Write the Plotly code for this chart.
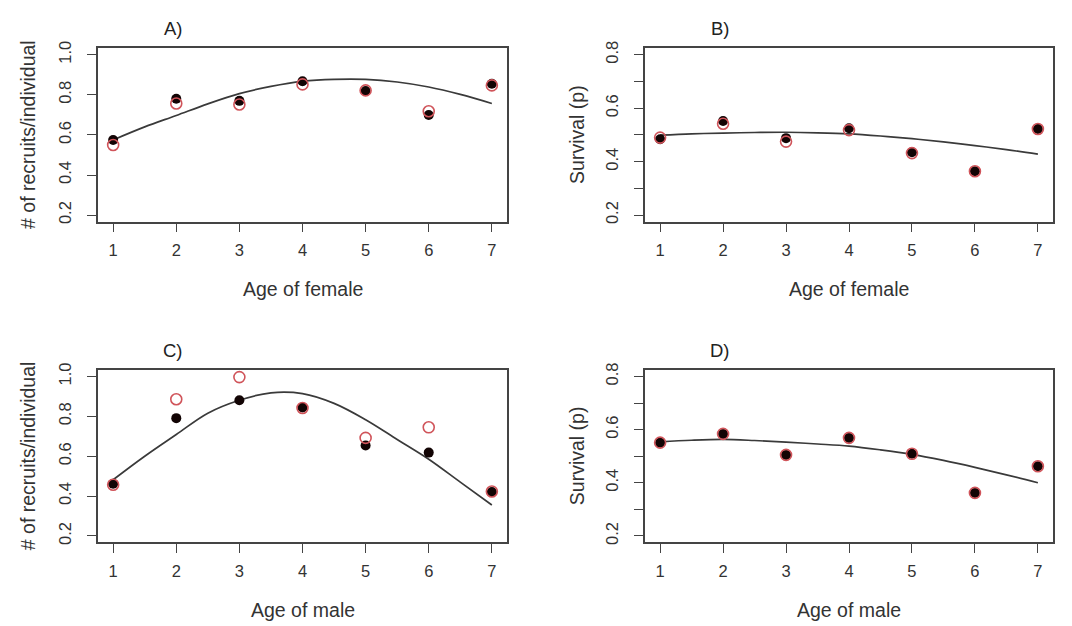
import plotly.graph_objects as go

ages = [1, 2, 3, 4, 5, 6, 7]
curve_x = [1, 1.5, 2, 2.5, 3, 3.5, 4, 4.5, 5, 5.5, 6, 6.5, 7]

# Panel A: recruits vs age of female
a_filled = [0.575, 0.780, 0.770, 0.868, 0.819, 0.699, 0.855]
a_open = [0.550, 0.757, 0.752, 0.852, 0.822, 0.718, 0.847]
a_curve = [0.575, 0.640, 0.697, 0.755, 0.806, 0.842, 0.867, 0.877, 0.877, 0.864, 0.839, 0.802, 0.757]

# Panel B: survival vs age of female
b_filled = [0.484, 0.552, 0.488, 0.525, 0.435, 0.364, 0.522]
b_open = [0.490, 0.542, 0.475, 0.518, 0.432, 0.364, 0.522]
b_curve = [0.499, 0.504, 0.507, 0.509, 0.510, 0.508, 0.504, 0.496, 0.486, 0.474, 0.460, 0.445, 0.428]

# Panel C: recruits vs age of male
c_filled = [0.462, 0.791, 0.881, 0.845, 0.654, 0.618, 0.420]
c_open = [0.457, 0.886, 0.997, 0.842, 0.692, 0.745, 0.423]
c_curve = [0.482, 0.600, 0.709, 0.816, 0.881, 0.918, 0.914, 0.865, 0.783, 0.684, 0.585, 0.470, 0.355]

# Panel D: survival vs age of male
d_filled = [0.551, 0.584, 0.505, 0.569, 0.509, 0.362, 0.462]
d_open = [0.551, 0.584, 0.505, 0.569, 0.509, 0.362, 0.462]
d_curve = [0.554, 0.560, 0.563, 0.559, 0.553, 0.546, 0.538, 0.524, 0.507, 0.484, 0.458, 0.430, 0.400]

titles = ["A)", "B)", "C)", "D)"]
x_titles = ["Age of female", "Age of female", "Age of male", "Age of male"]
y_titles = ["# of recruits/individual", "Survival (p)", "# of recruits/individual", "Survival (p)"]

rec_ticks = [0.2, 0.4, 0.6, 0.8, 1.0]
rec_text = ["0.2", "0.4", "0.6", "0.8", "1.0"]
surv_ticks = [0.2, 0.3, 0.4, 0.5, 0.6, 0.7, 0.8]
surv_text = ["0.2", "", "0.4", "", "0.6", "", "0.8"]

W, H = 1072, 626
FONT = "Liberation Sans, Arial, Helvetica, sans-serif"
AX = "#444444"
RED = "#d0545a"

# pixel boxes (left, right, top, bottom)
boxes = [(98, 507, 42, 218), (645, 1053, 42, 218), (98, 507, 369, 544), (645, 1053, 369, 544)]

panels = [
    (a_filled, a_open, a_curve, rec_ticks, rec_text, [0.168, 1.032]),
    (b_filled, b_open, b_curve, surv_ticks, surv_text, [0.176, 0.824]),
    (c_filled, c_open, c_curve, rec_ticks, rec_text, [0.168, 1.032]),
    (d_filled, d_open, d_curve, surv_ticks, surv_text, [0.176, 0.824]),
]

fig = go.Figure()
layout = dict(
    width=W, height=H, margin=dict(l=0, r=0, t=0, b=0),
    paper_bgcolor="white", plot_bgcolor="white", showlegend=False,
    font=dict(family=FONT, color="#333333"),
)
annotations = []

for i, (filled, opened, curve, ytv, ytt, yr) in enumerate(panels):
    n = "" if i == 0 else str(i + 1)
    xa, ya = "x" + n, "y" + n
    l, r, t, b = boxes[i]
    fig.add_trace(go.Scatter(x=curve_x, y=curve, mode="lines", line=dict(color="#3a3a3a", width=1.7, shape="spline"),
                             xaxis=xa, yaxis=ya, hoverinfo="skip"))
    fig.add_trace(go.Scatter(x=ages, y=filled, mode="markers",
                             marker=dict(size=10, color="#120404", line=dict(width=0)),
                             xaxis=xa, yaxis=ya))
    fig.add_trace(go.Scatter(x=ages, y=opened, mode="markers",
                             marker=dict(size=11, symbol="circle-open", color=RED, line=dict(width=1.6, color=RED)),
                             xaxis=xa, yaxis=ya))
    layout["xaxis" + n] = dict(
        domain=[l / W, r / W], range=[0.76, 7.24], anchor=ya,
        tickvals=ages, ticktext=[str(a) for a in ages],
        showline=True, mirror=True, linecolor=AX, linewidth=1.6,
        ticks="outside", ticklen=9, tickwidth=1.4, tickcolor=AX,
        showgrid=False, zeroline=False, ticklabelstandoff=4,
        tickfont=dict(family=FONT, size=16.5, color="#333333"),
    )
    layout["yaxis" + n] = dict(
        domain=[1 - b / H, 1 - t / H], range=yr, anchor=xa,
        tickvals=ytv, ticktext=ytt, tickangle=-90,
        showline=True, mirror=True, linecolor=AX, linewidth=1.6,
        ticks="outside", ticklen=9, tickwidth=1.4, tickcolor=AX,
        showgrid=False, zeroline=False, ticklabelstandoff=10,
        tickfont=dict(family=FONT, size=16.5, color="#333333"),
    )
    # panel title
    annotations.append(dict(text=titles[i], x=(l + 75) / W, y=1 - (t - 20) / H, xref="paper", yref="paper",
                            xanchor="center", yanchor="middle", showarrow=False,
                            font=dict(family=FONT, size=18.5, color="#222222")))
    # x title
    annotations.append(dict(text=x_titles[i], x=(l + r) / 2 / W, y=1 - (b + 69) / H, xref="paper", yref="paper",
                            xanchor="center", yanchor="middle", showarrow=False,
                            font=dict(family=FONT, size=19.5, color="#333333")))
    # y title
    ytx = 28 if i % 2 == 0 else 577
    annotations.append(dict(text=y_titles[i], x=ytx / W, y=1 - (t + b) / 2 / H, xref="paper", yref="paper",
                            xanchor="center", yanchor="middle", showarrow=False, textangle=-90,
                            font=dict(family=FONT, size=19.5, color="#333333")))

layout["annotations"] = annotations
fig.update_layout(**layout)
fig.write_html("out.html")
